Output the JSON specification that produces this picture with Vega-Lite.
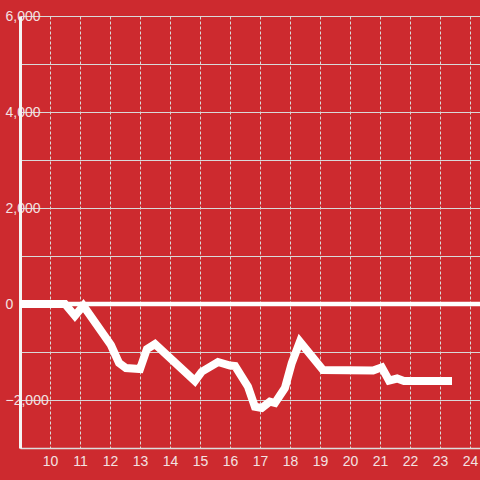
{
  "$schema": "https://vega.github.io/schema/vega-lite/v6.json",
  "width": 460,
  "height": 432,
  "autosize": {"type": "none"},
  "padding": {"left": 20, "top": 16, "right": 0, "bottom": 32},
  "background": "#cd2a2f",
  "config": {
    "view": {"stroke": null},
    "axis": {
      "labelFont": "Liberation Sans",
      "labelFontSize": 14,
      "labelColor": "#f3e2e2",
      "ticks": false,
      "tickSize": 0,
      "title": null,
      "gridColor": "#d9d9d9",
      "gridWidth": 1,
      "gridOpacity": 1
    }
  },
  "layer": [
    {
      "data": {"values": [{"v": 0}]},
      "mark": {"type": "rule", "color": "#ffffff", "strokeWidth": 4.5},
      "encoding": {
        "y": {
          "field": "v", "type": "quantitative",
          "scale": {"domain": [-3000, 6000], "nice": false, "zero": false},
          "axis": {
            "values": [-3000, -2000, -1000, 0, 1000, 2000, 3000, 4000, 5000, 6000],
            "labelExpr": "datum.value % 2000 === 0 ? format(datum.value, ',') : ''",
            "grid": true,
            "domainColor": "#f5f5f5",
            "domainWidth": 3,
            "labelAlign": "left",
            "labelPadding": 15,
            "labelFlush": false,
            "labelBaseline": "middle"
          }
        }
      }
    },
    {
      "data": {
        "values": [
          {"hour": 9.0, "value": 0},
          {"hour": 10.5, "value": 0},
          {"hour": 10.83, "value": -244},
          {"hour": 11.11, "value": -35},
          {"hour": 12.03, "value": -854},
          {"hour": 12.3, "value": -1229},
          {"hour": 12.53, "value": -1333},
          {"hour": 13.0, "value": -1354},
          {"hour": 13.23, "value": -938},
          {"hour": 13.5, "value": -833},
          {"hour": 14.83, "value": -1604},
          {"hour": 15.06, "value": -1410},
          {"hour": 15.6, "value": -1208},
          {"hour": 16.0, "value": -1281},
          {"hour": 16.17, "value": -1292},
          {"hour": 16.6, "value": -1723},
          {"hour": 16.83, "value": -2140},
          {"hour": 17.06, "value": -2167},
          {"hour": 17.33, "value": -2035},
          {"hour": 17.5, "value": -2063},
          {"hour": 17.83, "value": -1750},
          {"hour": 18.06, "value": -1229},
          {"hour": 18.33, "value": -785},
          {"hour": 19.1, "value": -1375},
          {"hour": 20.77, "value": -1385},
          {"hour": 21.06, "value": -1319},
          {"hour": 21.3, "value": -1594},
          {"hour": 21.57, "value": -1552},
          {"hour": 21.8, "value": -1604},
          {"hour": 23.4, "value": -1604}
        ]
      },
      "mark": {"type": "line", "color": "#ffffff", "strokeWidth": 8, "strokeJoin": "miter"},
      "encoding": {
        "x": {
          "field": "hour", "type": "quantitative",
          "scale": {"domain": [9, 24.3333], "nice": false, "zero": false},
          "axis": {
            "values": [10, 11, 12, 13, 14, 15, 16, 17, 18, 19, 20, 21, 22, 23, 24],
            "grid": true,
            "gridDash": [3, 2],
            "domainColor": "#dddddd",
            "domainWidth": 1.5,
            "labelPadding": 6,
            "labelFlush": false
          }
        },
        "y": {
          "field": "value", "type": "quantitative",
          "scale": {"domain": [-3000, 6000], "nice": false, "zero": false}
        }
      }
    }
  ]
}
